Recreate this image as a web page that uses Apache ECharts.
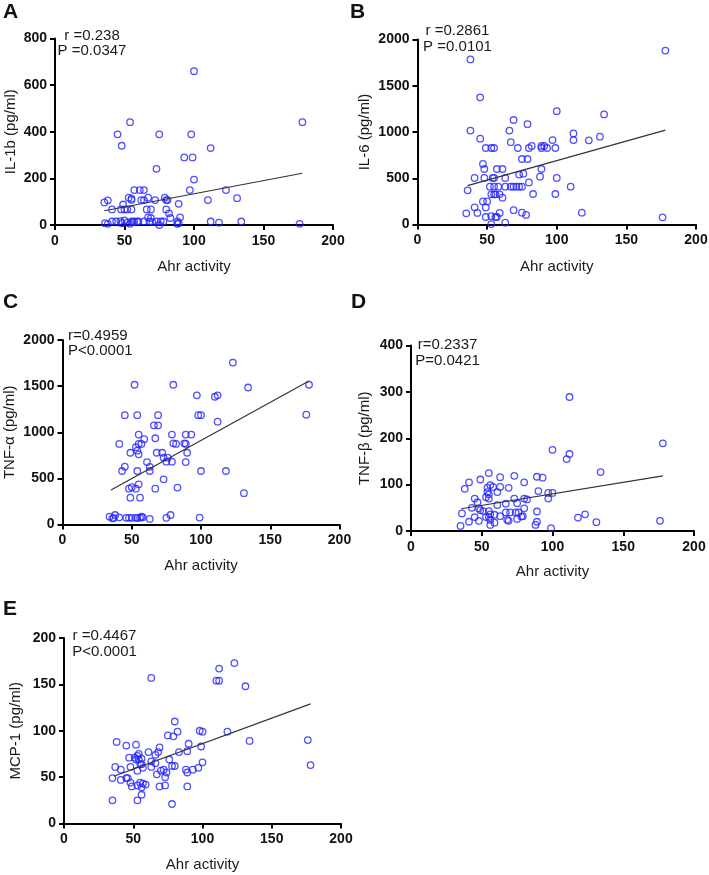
<!DOCTYPE html>
<html>
<head>
<meta charset="utf-8">
<script src="https://cdn.jsdelivr.net/npm/echarts@6.0.0/dist/echarts.min.js"></script>
<style>
html, body { margin: 0; padding: 0; background: #fff; }
#main { width: 709px; height: 875px; }
</style>
</head>
<body>
<div id="main"></div>
<script>
// Ahr activity (x) vs cytokine level (y)
var il1bPoints = [[100,660],[54,441],[178,441],[45,389],[75,389],[98,389],[48,340],[112,330],[93,290],[99,290],
  [73,241],[100,195],[97,150],[123,150],[57,150],[61,150],[64,150],[110,107],[131,115],[89,91],
  [35.5,97],[38,106],[53,117],[55,113],[55,108],[62,107],[64,107],[67,117],[72,107],[79,117],
  [80,107],[81,107],[49,88],[41,67],[47.5,67],[50,67],[52,67],[55,67],[66,67],[69,67],
  [80,67],[82,50],[83,30],[90,33],[67,33],[69,30],[36,8],[38,5],[41,15],[44,15],
  [47,17],[50,20],[52,10],[55,15],[56,12],[57,15],[59,15],[60,15],[64,15],[68,15],
  [70,12],[73,15],[75,0],[76,15],[78,15],[88,15],[89,8],[112,15],[118,10],[134,15],
  [176,5],[48,8],[54,5],[88,5]];
var il6Points = [[45,1375],[100,1225],[69,1130],[79,1085],[38,1015],[66,1015],[112,985],[112,913],[45,928],[67,890],
  [49,827],[53,827],[55,827],[72,827],[80,827],[82,850],[89,827],[89,850],[91,850],[93,827],
  [97,913],[99,827],[47,655],[48,600],[57,600],[61,600],[75,708],[79,708],[41,503],[48,503],
  [54,503],[55,503],[63,503],[73,540],[76,550],[89,600],[88,517],[100,503],[36,370],[52,409],
  [55,409],[58,409],[63,409],[67,409],[69,409],[71,409],[73,409],[75,409],[80,455],[110,409],
  [53,326],[55,326],[56,326],[59,326],[61,290],[83,330],[99,330],[47,250],[50,250],[49,185],
  [41,186],[35,121],[43,125],[49,81],[53,90],[57,81],[56,81],[59,125],[53,5],[63,20],
  [69,155],[75,128],[78,103],[118,128],[176,78],[178,1880],[38,1785],[134,1190],[131,950],[123,910]];
var tnfaPoints = [[52,1515],[80,1515],[97,1400],[110,1385],[112,1400],[45,1185],[54,1185],[69,1185],[98,1185],[100,1185],
  [112,1115],[66,1075],[69,1075],[55,975],[79,975],[89,975],[93,975],[59,925],[41,873],[67,935],
  [53,838],[55,873],[57,873],[49,778],[55,761],[68,778],[72,778],[73,724],[75,681],[76,724],
  [79,681],[80,880],[82,873],[88,880],[89,873],[90,778],[89,677],[61,677],[63,625],[63,580],
  [45,627],[43,580],[54,580],[100,580],[73,490],[83,400],[67,388],[48,388],[50,405],[53,388],
  [55,435],[49,291],[56,291],[34,85],[36,67],[38,103],[41,78],[46,72],[48,72],[50,72],
  [54,72],[56,72],[58,78],[63,60],[75,72],[78,103],[99,75],[37,70],[53,72],[57,85],
  [123,1755],[134,1485],[178,1515],[176,1190],[118,580],[131,340],[54,800]];
var tnfbPoints = [[100,175],[110,155],[112,166],[55,125],[49,111],[41,105],[38,91],[63,116],[73,119],[89,117],
  [93,115],[80,105],[56,99],[54,93],[58,95],[63,95],[69,93],[90,86],[61,84],[54,84],
  [55,79],[53,73],[55,70],[45,70],[73,70],[80,70],[82,68],[97,82],[100,82],[97,70],
  [47,62],[61,56],[67,59],[75,60],[43,50],[48,49],[49,45],[51,43],[80,49],[36,38],
  [45,30],[55,43],[56,36],[55,30],[56,24],[59,35],[63,32],[67,40],[70,40],[74,40],
  [76,40],[68,24],[69,22],[75,26],[78,31],[89,42],[89,20],[88,13],[48,22],[41,20],
  [35,11],[56,13],[59,18],[99,6],[112,289],[178,189],[134,127],[176,22],[131,19],[123,36],
  [118,29],[53,30],[79,32]];
var mcp1Points = [[63,157],[112,167],[110,154],[112,154],[80,110],[75,95],[79,94],[82,99],[98,100],[100,99],
  [118,99],[38,88],[45,84],[52,85],[90,86],[69,82],[68,77],[61,77],[66,74],[54,75],
  [47,71],[51,71],[53,73],[52,69],[54,69],[55,64],[56,70],[56,64],[63,67],[66,65],
  [76,69],[83,77],[89,78],[99,83],[100,66],[37,61],[41,58],[35,49],[41,47],[45,49],
  [46,49],[48,61],[53,57],[57,60],[48,44],[49,40],[53,41],[55,44],[56,39],[57,43],
  [59,42],[56,31],[53,25],[35,25],[63,61],[67,53],[70,57],[72,58],[74,55],[73,50],
  [78,62],[80,62],[69,40],[73,41],[78,21],[88,58],[89,55],[93,58],[97,60],[89,40],
  [123,173],[131,148],[134,89],[176,90],[178,63]];

// regression line end points
var il1bFit = [[35.5,61],[178,222]];
var il6Fit = [[36,420],[178,1020]];
var tnfaFit = [[35,375],[178,1555]];
var tnfbFit = [[35.5,48],[178,119]];
var mcp1Fit = [[36,51],[178,129]];

var letters = ['A','B','C','D','E'];
var yNames = ['IL-1b (pg/ml)','IL-6 (pg/ml)','TNF-\u03b1 (pg/ml)','TNF-\u03b2 (pg/ml)','MCP-1 (pg/ml)'];
var yMax = [800, 2000, 2000, 400, 200];
var yStep = [200, 500, 500, 100, 50];
var statTexts = ['r =0.238\nP =0.0347','r =0.2861\nP =0.0101','r=0.4959\nP<0.0001','r=0.2337\nP=0.0421','r =0.4467\nP<0.0001'];
var xTicks = [0, 200, 50];
var xName = 'Ahr activity';

var allPoints = [il1bPoints, il6Points, tnfaPoints, tnfbPoints, mcp1Points];
var allFits = [il1bFit, il6Fit, tnfaFit, tnfbFit, mcp1Fit];

// panel placement
var layout = [
  {left:55, top:38.5, width:278, height:186.5, xGap:34, yGap:37, letter:[3,13], stat:[92,28,'center']},
  {left:417.5, top:39.5, width:278.5, height:185, xGap:35, yGap:45, letter:[350,13], stat:[457.5,23.5,'center']},
  {left:62.5, top:340, width:277, height:184.5, xGap:34, yGap:45, letter:[3,303], stat:[68,328,'left']},
  {left:411, top:345.5, width:283, height:185.5, xGap:33, yGap:39, letter:[351,303], stat:[447.5,337.5,'center']},
  {left:64, top:638, width:277, height:185.5, xGap:34, yGap:41, letter:[3,609.5], stat:[104.5,628.5,'center']}
];

var font = 'Arial, "Liberation Sans", sans-serif';
var grids = [], xAxes = [], yAxes = [], series = [], graphics = [];

function plain(v) { return String(v); }

layout.forEach(function (p, i) {
  grids.push({left: p.left, top: p.top, width: p.width, height: p.height, outerBoundsMode: 'none'});
  var axisCommon = {
    gridIndex: i,
    type: 'value',
    nameLocation: 'middle',
    nameTextStyle: {fontFamily: font, fontSize: 15, color: '#1a1a1a'},
    axisLine: {show: true, lineStyle: {color: '#000', width: 2}},
    axisTick: {show: true, length: 5, lineStyle: {color: '#000', width: 2}},
    axisLabel: {fontFamily: font, fontSize: 14, fontWeight: 'bold', color: '#111', formatter: plain},
    splitLine: {show: false}
  };
  xAxes.push(echarts.util.merge({
    min: xTicks[0], max: xTicks[1], interval: xTicks[2],
    name: xName, nameGap: p.xGap,
    axisLabel: {margin: 9}
  }, axisCommon));
  yAxes.push(echarts.util.merge({
    min: 0, max: yMax[i], interval: yStep[i],
    name: yNames[i], nameGap: p.yGap, nameRotate: 90,
    axisLabel: {margin: 8}
  }, axisCommon));
  series.push({
    type: 'line', xAxisIndex: i, yAxisIndex: i,
    data: allFits[i], showSymbol: false, silent: true,
    lineStyle: {color: '#333', width: 1.2}
  });
  series.push({
    type: 'scatter', xAxisIndex: i, yAxisIndex: i,
    data: allPoints[i], symbol: 'circle', symbolSize: 6.5,
    itemStyle: {color: 'rgba(255,255,255,0)', borderColor: '#2424ff', borderWidth: 1.3}
  });
  graphics.push({
    type: 'text', left: p.letter[0], top: p.letter[1] - 11,
    style: {text: letters[i], font: 'bold 21px ' + font, fill: '#111'}
  });
  graphics.push({
    type: 'text', x: p.stat[0], y: p.stat[1],
    style: {text: statTexts[i], font: '15px ' + font, fill: '#1a1a1a', align: p.stat[2], verticalAlign: 'top', lineHeight: 15.5}
  });
});

var chart = echarts.init(document.getElementById('main'));
chart.setOption({
  animation: false,
  backgroundColor: '#fff',
  grid: grids,
  xAxis: xAxes,
  yAxis: yAxes,
  series: series,
  graphic: graphics
});
</script>
</body>
</html>
